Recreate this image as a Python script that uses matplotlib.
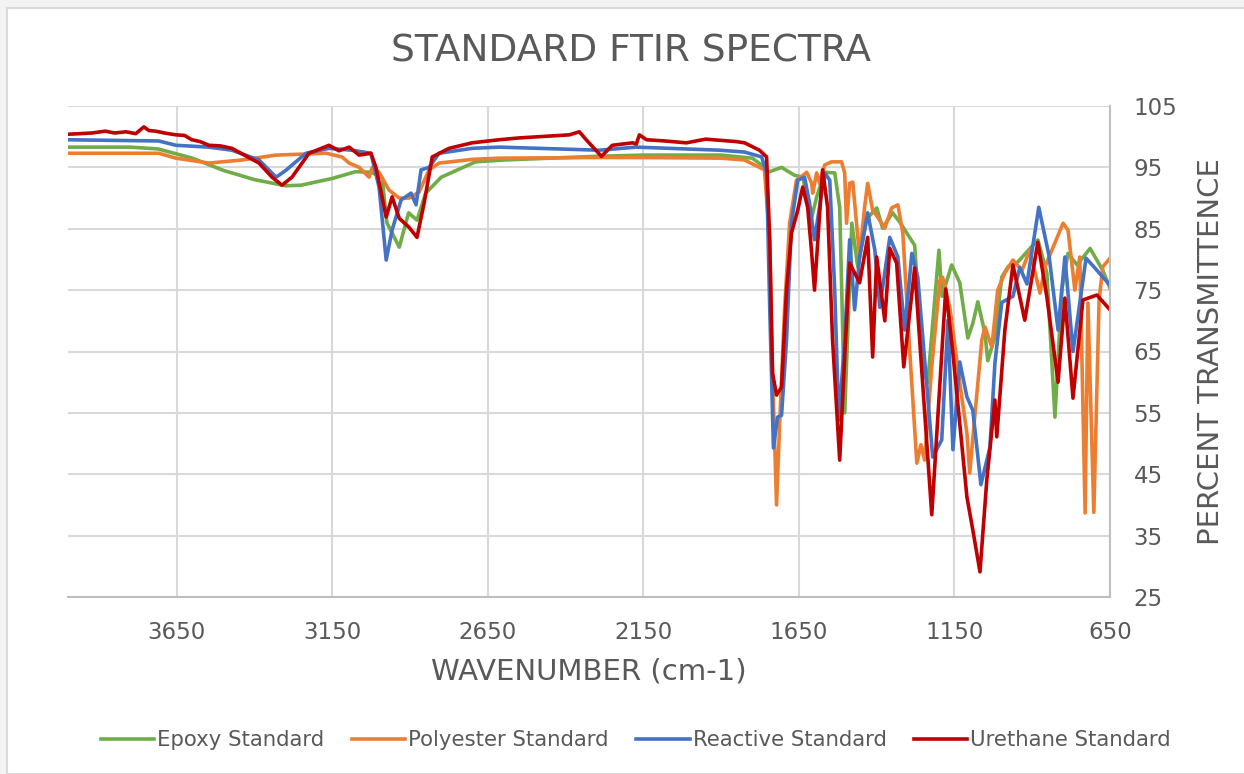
import matplotlib.pyplot as plt
from matplotlib.patches import Rectangle

# wavenumber (cm-1) / percent transmittance
epoxy_wn = [4000, 3800, 3710, 3600, 3500, 3400, 3300, 3250, 3150, 3075, 3025, 2990,
            2975, 2935, 2905, 2878, 2850, 2800, 2690, 2600, 2300, 2150, 1900, 1800,
            1760, 1750, 1706, 1664, 1638, 1609, 1593, 1567, 1535, 1519, 1503, 1480,
            1461, 1432, 1400, 1381, 1349, 1326, 1278, 1252, 1236, 1200, 1190, 1159,
            1133, 1107, 1091, 1075, 1052, 1043, 1020, 998, 978, 946, 882, 853, 827,
            805, 785, 756, 714, 673, 650]
epoxy_t = [98.3, 98.3, 98.0, 96.5, 94.5, 93.0, 92.0, 92.1, 93.2, 94.3, 94.2, 93.3,
           86.0, 82.0, 87.6, 86.4, 90.8, 93.4, 95.9, 96.2, 96.8, 97.0, 97.0, 96.5,
           95.0, 94.2, 95.0, 93.7, 93.4, 86.9, 90.2, 94.2, 94.1, 88.5, 55.0, 85.9,
           78.8, 86.6, 88.4, 85.1, 87.6, 86.1, 82.3, 62.5, 59.9, 81.5, 74.0, 79.1,
           76.2, 67.2, 69.6, 73.1, 68.0, 63.5, 67.4, 77.1, 78.8, 79.6, 83.2, 77.8, 54.3,
           75.0, 81.0, 79.1, 81.8, 78.2, 75.3]

poly_wn = [4000, 3708, 3653, 3547, 3441, 3331, 3170, 3119, 3096, 3064, 3032, 3022,
           3000, 2968, 2935, 2903, 2871, 2839, 2807, 2701, 2614, 2300, 2150, 1900,
           1825, 1761, 1744, 1735, 1722, 1712, 1696, 1680, 1658, 1625, 1609, 1606,
           1593, 1584, 1567, 1545, 1513, 1503, 1497, 1487, 1477, 1455, 1439, 1429,
           1413, 1397, 1374, 1352, 1332, 1316, 1294, 1271, 1258, 1246, 1223, 1197,
           1188, 1165, 1133, 1110, 1101, 1085, 1062, 1052, 1030, 1011, 988, 962,
           933, 908, 875, 859, 801, 785, 763, 747, 730, 721, 702, 685, 673, 650]
poly_t = [97.3, 97.3, 96.5, 95.7, 96.2, 97.0, 97.3, 96.7, 95.7, 95.0, 93.4, 95.0,
          94.2, 91.3, 90.0, 90.0, 91.0, 94.6, 95.7, 96.3, 96.5, 96.6, 96.6, 96.5,
          96.2, 94.6, 83.2, 61.5, 40.0, 53.3, 72.2, 85.9, 92.9, 94.2, 92.4, 90.8,
          94.1, 92.4, 95.4, 95.9, 95.9, 94.1, 85.9, 92.4, 92.6, 80.4, 88.5, 92.4,
          88.0, 86.9, 85.1, 88.4, 88.9, 84.3, 65.2, 46.8, 49.8, 47.3, 62.5, 76.6,
          77.1, 72.2, 59.9, 51.7, 45.2, 54.3, 66.9, 69.0, 65.7, 75.0, 77.8, 79.9,
          78.2, 81.5, 74.5, 78.8, 85.9, 84.8, 75.0, 80.4, 38.7, 72.9, 38.8, 73.4, 78.8, 80.2]

react_wn = [4000, 3708, 3653, 3547, 3473, 3386, 3331, 3300, 3235, 3161, 3087, 3026,
            3000, 2977, 2958, 2929, 2897, 2881, 2865, 2839, 2807, 2701, 2614, 2292,
            2173, 1905, 1825, 1770, 1754, 1744, 1732, 1719, 1706, 1690, 1674, 1654,
            1632, 1616, 1600, 1584, 1567, 1551, 1535, 1522, 1503, 1487, 1471, 1455,
            1429, 1406, 1390, 1358, 1332, 1310, 1287, 1268, 1220, 1191, 1171, 1155,
            1133, 1110, 1091, 1065, 1036, 1020, 998, 962, 940, 917, 879, 846, 817,
            795, 769, 727, 702, 650]
react_t = [99.5, 99.3, 98.6, 98.3, 97.8, 96.2, 93.4, 94.5, 97.3, 98.1, 97.8, 97.3,
           91.8, 79.9, 84.8, 89.7, 90.8, 88.9, 94.6, 95.0, 97.3, 98.1, 98.3, 97.8,
           98.3, 97.8, 97.5, 96.7, 94.1, 72.2, 49.3, 54.3, 54.6, 66.9, 85.9, 92.9,
           93.4, 89.2, 83.2, 88.5, 94.1, 92.9, 75.0, 53.8, 66.9, 83.2, 71.8, 80.4,
           87.6, 81.5, 72.2, 83.6, 80.4, 68.5, 81.0, 77.1, 47.8, 50.6, 70.1, 49.0,
           63.3, 57.6, 55.4, 43.3, 49.4, 63.1, 73.0, 74.0, 78.7, 76.0, 88.5, 80.6, 68.5,
           80.4, 65.0, 80.2, 78.8, 75.8]

ureth_wn = [4000, 3960, 3924, 3880, 3850, 3814, 3782, 3756, 3740, 3718, 3690, 3653,
            3625, 3602, 3575, 3547, 3510, 3473, 3386, 3344,
            3312, 3280, 3225, 3161, 3129, 3096, 3064, 3026, 3010, 2977, 2958, 2935,
            2903, 2878, 2855, 2829, 2775, 2701, 2614, 2549, 2388, 2356, 2334, 2285,
            2250, 2185, 2173, 2163, 2140, 2080, 2012, 1950, 1851, 1825, 1777, 1754, 1744, 1735,
            1722, 1706, 1690, 1674, 1654, 1638, 1622, 1609, 1600, 1574, 1558, 1542,
            1519, 1503, 1487, 1455, 1429, 1413, 1400, 1374, 1358, 1336, 1313, 1278,
            1223, 1178, 1155, 1110, 1091, 1068, 1046, 1020, 1014, 988, 962, 924,
            882, 853, 817, 795, 769, 737, 692, 650]
ureth_t = [100.4, 100.5, 100.6, 100.9, 100.6, 100.8, 100.5, 101.6, 101.0, 100.9, 100.6, 100.3,
           100.2, 99.5, 99.2, 98.6, 98.5, 98.1, 95.7, 93.4,
           92.1, 93.4, 97.3, 98.6, 97.7, 98.3, 97.0, 97.3, 95.0, 86.9, 90.2, 86.7,
           85.2, 83.6, 89.2, 96.7, 98.1, 99.0, 99.5, 99.8, 100.3, 100.8, 99.5, 96.8,
           98.6, 99.0, 98.8, 100.3, 99.5, 99.3, 99.0, 99.6, 99.2, 99.0, 97.8, 96.7, 83.2, 61.5,
           57.9, 59.2, 75.0, 84.3, 88.0, 91.8, 88.5, 81.0, 75.0, 94.6, 88.5, 66.9,
           47.3, 64.1, 79.4, 76.2, 83.6, 64.1, 80.4, 70.0, 81.8, 79.4, 62.5, 78.6,
           38.4, 75.2, 64.7, 41.3, 35.9, 29.1, 44.1, 57.1, 51.1, 68.5, 79.1, 70.1,
           82.8, 73.9, 60.0, 73.7, 57.4, 73.4, 74.2, 71.8]

names = ["Epoxy Standard", "Polyester Standard", "Reactive Standard", "Urethane Standard"]
colors = ["#70AD47", "#ED7D31", "#4472C4", "#C00000"]
x_ticks = [3650, 3150, 2650, 2150, 1650, 1150, 650]
y_ticks = [25, 35, 45, 55, 65, 75, 85, 95, 105]

txt = "#595959"
W, H = 1244, 774

fig = plt.figure(figsize=(W / 100, H / 100), dpi=100, facecolor="#F3F3F3")
fig.patches.append(Rectangle((7 / W, 0), 1, 1 - 8 / H, transform=fig.transFigure,
                             facecolor="white", edgecolor="#D9D9D9", lw=1.5, zorder=-10))

ax = fig.add_axes([68 / W, 1 - 597 / H, (1110 - 68) / W, (597 - 106) / H])
ax.set_facecolor("none")

series = [(epoxy_wn, epoxy_t), (poly_wn, poly_t), (react_wn, react_t), (ureth_wn, ureth_t)]
for (wn, t), name, c in zip(series, names, colors):
    ax.plot(wn, t, color=c, lw=2.6, label=name, solid_joinstyle="round")

ax.set_xlim(4000, 650)
ax.set_ylim(25, 105)
ax.set_xticks(x_ticks)
ax.set_yticks(y_ticks)
ax.yaxis.tick_right()
ax.yaxis.set_label_position("right")
ax.grid(True, color="#D9D9D9", lw=1.5)
ax.set_axisbelow(True)
ax.tick_params(length=0, labelsize=16.5, colors=txt)
ax.tick_params(axis="x", pad=17)
ax.tick_params(axis="y", pad=17)
for s in ["top", "left"]:
    ax.spines[s].set_visible(False)
for s in ["bottom", "right"]:
    ax.spines[s].set_color("#BFBFBF")
    ax.spines[s].set_linewidth(1.5)

ax.set_xlabel("WAVENUMBER (cm-1)", fontsize=21, color=txt, labelpad=10)
ax.set_ylabel("PERCENT TRANSMITTENCE", fontsize=21, color=txt, labelpad=14)

fig.text(631 / W, 1 - 52 / H, "STANDARD FTIR SPECTRA", fontsize=27, color=txt,
         ha="center", va="center")

fig.legend(loc="center", bbox_to_anchor=(636 / W, 1 - 740 / H), ncol=4, frameon=False,
           fontsize=15.3, handlelength=2.5, handletextpad=0.15, columnspacing=1.3,
           labelcolor=txt)

fig.savefig("out.png", dpi=100, facecolor=fig.get_facecolor())
